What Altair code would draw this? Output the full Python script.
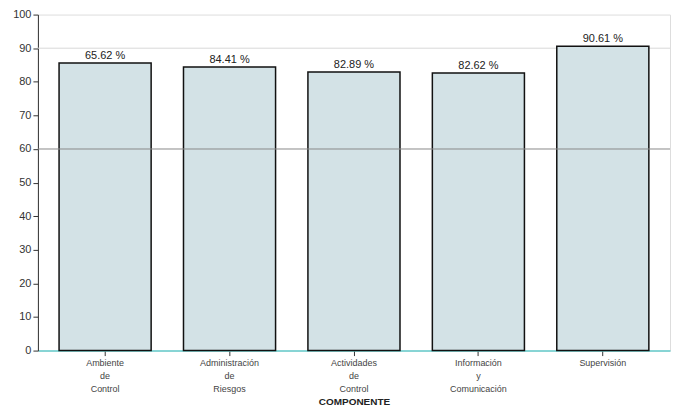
import altair as alt
import pandas as pd

categories = ["Ambiente\nde\nControl", "Administración\nde\nRiesgos", "Actividades\nde\nControl",
              "Información\ny\nComunicación", "Supervisión"]
values = [85.62, 84.41, 82.89, 82.62, 90.61]
value_labels = ["65.62 %", "84.41 %", "82.89 %", "82.62 %", "90.61 %"]
y_ticks = [0, 10, 20, 30, 40, 50, 60, 70, 80, 90, 100]
ref_values = [60]
grid_values = [90]

df = pd.DataFrame({"cat": categories, "val": values, "lab": value_labels})
ref = pd.DataFrame({"y": ref_values})
grid = pd.DataFrame({"y": grid_values})

yscale = alt.Scale(domain=[0, 100], nice=False)
yaxis = alt.Axis(values=y_ticks, tickCount=11, grid=False, labelFont="Liberation Sans",
                 labelFontSize=11, labelColor="#333", tickColor="#333", tickSize=5,
                 domainColor="#333", labelPadding=2, labelOverlap=False)
xaxis = alt.Axis(labelAngle=0, labelExpr="split(datum.label, '\\n')",
                 labelFont="Liberation Sans", labelFontSize=9, labelColor="#444",
                 labelLineHeight=13, labelPadding=3,
                 titleFont="Liberation Sans", titleFontSize=10, titleFontWeight="bold",
                 titleColor="#222", titlePadding=3,
                 tickColor="#333", tickSize=5, domainColor="#6cc", domainWidth=1.5)
xenc = alt.X("cat:N", sort=categories, title="COMPONENTE",
             scale=alt.Scale(paddingInner=0.26, paddingOuter=0.17), axis=xaxis)

bars = alt.Chart(df).mark_bar(fill="#d3e2e6", stroke="#111", strokeWidth=1.5).encode(
    x=xenc,
    y=alt.Y("val:Q", scale=yscale, title=None, axis=yaxis),
)
text = alt.Chart(df).mark_text(dy=-7, font="Liberation Sans", fontSize=11, color="#222").encode(
    x=xenc, y=alt.Y("val:Q", scale=yscale, title=None, axis=yaxis), text="lab:N")
rule60 = alt.Chart(ref).mark_rule(color="#8a8a8a", strokeWidth=1).encode(
    y=alt.Y("y:Q", scale=yscale, title=None, axis=yaxis))
rule90 = alt.Chart(grid).mark_rule(color="#d8d8d8", strokeWidth=1).encode(
    y=alt.Y("y:Q", scale=yscale, title=None, axis=yaxis))

chart = alt.layer(rule90, bars, rule60, text).properties(
    width=634, height=337, autosize="none",
    padding={"left": 30, "top": 6, "right": 3, "bottom": 64},
).configure_view(stroke="#222", strokeWidth=1.2).configure(background="white")

chart.save("out.html", embed_options={"renderer": "svg", "actions": False})
